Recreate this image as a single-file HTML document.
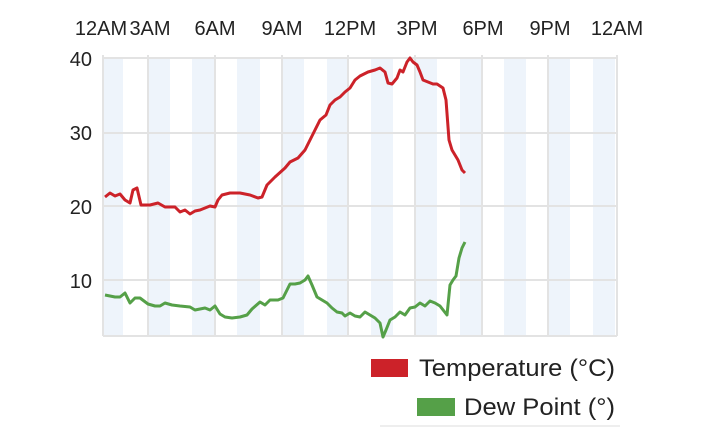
<!DOCTYPE html>
<html><head><style>
body{margin:0;width:720px;height:427px;background:#fff;overflow:hidden;font-family:"Liberation Sans",sans-serif;}
</style></head><body>
<svg width="720" height="427" xmlns="http://www.w3.org/2000/svg" font-family="Liberation Sans, sans-serif">
<g fill="#eef4fb">
<rect x="104" y="57" width="19" height="279"/>
<rect x="148" y="57" width="22" height="279"/>
<rect x="192" y="57" width="23" height="279"/>
<rect x="237" y="57" width="23" height="279"/>
<rect x="282" y="57" width="22" height="279"/>
<rect x="327" y="57" width="22" height="279"/>
<rect x="371" y="57" width="22" height="279"/>
<rect x="415" y="57" width="22" height="279"/>
<rect x="460" y="57" width="22" height="279"/>
<rect x="504" y="57" width="22" height="279"/>
<rect x="548" y="57" width="22" height="279"/>
<rect x="593" y="57" width="22" height="279"/>
</g>
<g stroke="#e3e3e3" stroke-width="2" fill="none">
<line x1="103" y1="58" x2="617" y2="58"/>
<line x1="103" y1="133" x2="617" y2="133"/>
<line x1="103" y1="206" x2="617" y2="206"/>
<line x1="103" y1="280" x2="617" y2="280"/>
<line x1="103" y1="336" x2="617" y2="336"/>
<line x1="103" y1="55" x2="103" y2="336"/>
<line x1="617" y1="55" x2="617" y2="336"/>
<line x1="148" y1="55" x2="148" y2="336"/>
<line x1="215" y1="55" x2="215" y2="336"/>
<line x1="282" y1="55" x2="282" y2="336"/>
<line x1="348" y1="55" x2="348" y2="336"/>
<line x1="415" y1="55" x2="415" y2="336"/>
<line x1="482" y1="55" x2="482" y2="336"/>
<line x1="548" y1="55" x2="548" y2="336"/>
</g>
<g font-size="20" fill="#222" text-anchor="middle">
<text x="101" y="35">12AM</text><text x="150" y="35">3AM</text><text x="215" y="35">6AM</text>
<text x="282" y="35">9AM</text><text x="350" y="35">12PM</text><text x="417" y="35">3PM</text>
<text x="483" y="35">6PM</text><text x="550" y="35">9PM</text><text x="617" y="35">12AM</text>
</g>
<g font-size="20" fill="#222" text-anchor="end">
<text x="92" y="66">40</text><text x="92" y="140">30</text><text x="92" y="214">20</text><text x="92" y="288">10</text>
</g>
<polyline fill="none" stroke="#cc2229" stroke-width="3" stroke-linejoin="round" points="105,197 110,193 115,196 120,194 125,200 130,203 133,190 137,188 141,205 150,205 158,203 165,207 175,207 180,212 185,210 190,214 195,211 200,210 205,208 210,206 215,207 218,200 222,195 230,193 240,193 250,195 258,198 262,197 267,185 275,177 285,168 290,162 298,158 305,150 310,140 315,130 320,120 326,115 330,105 335,100 340,97 345,92 350,88 355,80 360,76 368,72 375,70 380,68 385,72 388,83 392,84 397,78 400,70 403,72 407,62 410,58 413,62 417,65 420,72 423,80 428,82 433,84 437,84 443,88 446,100 449,140 452,150 455,155 458,160 462,170 465,173"/>
<polyline fill="none" stroke="#55a048" stroke-width="3" stroke-linejoin="round" points="105,295 110,296 115,297 120,297 125,293 130,303 135,298 140,298 148,304 155,306 160,306 165,303 172,305 180,306 190,307 195,310 200,309 205,308 210,310 215,306 220,314 225,317 232,318 240,317 247,315 252,309 260,302 265,305 270,300 278,300 283,298 290,284 295,284 300,283 305,280 308,276 312,285 317,297 322,300 327,303 332,308 337,312 342,313 345,316 350,313 355,316 360,317 365,312 370,315 375,318 380,323 383,337 386,330 390,320 395,317 400,312 405,315 410,308 415,307 420,303 425,306 430,301 435,303 440,306 447,315 450,285 453,280 456,276 459,258 462,248 465,242"/>
<rect x="371" y="359" width="37" height="18" fill="#cc2229"/>
<text x="419" y="376" font-size="24" fill="#222" textLength="196" lengthAdjust="spacingAndGlyphs">Temperature (°C)</text>
<rect x="417" y="398" width="38" height="18" fill="#55a048"/>
<text x="464" y="415" font-size="24" fill="#222" textLength="151" lengthAdjust="spacingAndGlyphs">Dew Point (°)</text>
<line x1="380" y1="426" x2="620" y2="426" stroke="#ddd" stroke-width="1"/>
</svg>
</body></html>
